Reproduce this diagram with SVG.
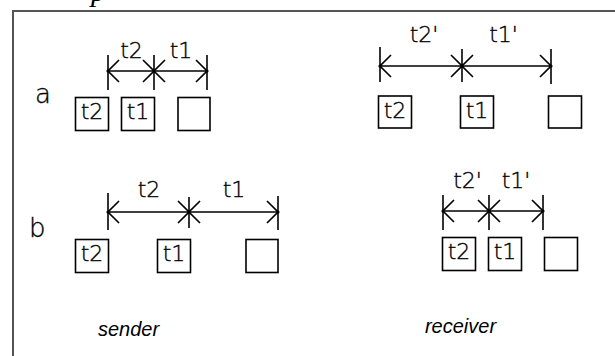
<svg xmlns="http://www.w3.org/2000/svg" width="615" height="356" viewBox="0 0 615 356">
<style>
.frame{stroke:#555;stroke-width:2;fill:none}
.box{fill:#fff;stroke:#000;stroke-width:1.6}
.lbl{font-family:"DejaVu Sans","Liberation Sans",sans-serif;font-weight:200;font-size:22px;fill:#000;stroke:#000;stroke-width:0.35;text-anchor:middle}
.row{font-family:"DejaVu Sans","Liberation Sans",sans-serif;font-weight:200;font-size:26px;fill:#000;stroke:#000;stroke-width:0.35}
.cap{font-family:"Liberation Sans",Arial,sans-serif;font-size:20px;font-style:italic;fill:#000;text-anchor:middle}
.dim{stroke:#000;stroke-width:1.6;fill:none;marker-start:url(#arr);marker-end:url(#arr)}
.tick{stroke:#000;stroke-width:1.6}
</style>
<defs>
<marker id="arr" viewBox="0 0 12 24" refX="12" refY="12" markerWidth="12" markerHeight="24" markerUnits="userSpaceOnUse" orient="auto-start-reverse">
<path d="M1,1 L12,12 L1,23" fill="none" stroke="#000" stroke-width="1.6"/>
</marker>
</defs>
<rect width="615" height="356" fill="#fff"/>
<text x="91" y="1" font-family="Liberation Serif,serif" font-style="italic" font-size="30">p</text>
<path class="frame" d="M13,356 V11 H615"/>

<g id="label-a"><text class="row" x="35" y="103">a</text></g>
<g id="label-b"><text class="row" x="29" y="237">b</text></g>

<g id="connectors">
  <!-- a sender -->
  <line class="tick" x1="108" y1="55" x2="108" y2="90"/>
  <line class="tick" x1="154" y1="55" x2="154" y2="90"/>
  <line class="tick" x1="207" y1="55" x2="207" y2="90"/>
  <line class="dim" x1="108" y1="71" x2="154" y2="71"/>
  <line class="dim" x1="154" y1="71" x2="207" y2="71"/>
  <text class="lbl" x="131.5" y="58">t2</text>
  <text class="lbl" x="181" y="58">t1</text>
  <!-- a receiver -->
  <line class="tick" x1="380" y1="47" x2="380" y2="82"/>
  <line class="tick" x1="462" y1="49" x2="462" y2="82"/>
  <line class="tick" x1="551" y1="49" x2="551" y2="84"/>
  <line class="dim" x1="380" y1="66" x2="462" y2="66"/>
  <line class="dim" x1="462" y1="66" x2="551" y2="66"/>
  <text class="lbl" x="424" y="42">t2'</text>
  <text class="lbl" x="503.5" y="42">t1'</text>
  <!-- b sender -->
  <line class="tick" x1="108" y1="193" x2="108" y2="230"/>
  <line class="tick" x1="189" y1="197" x2="189" y2="228"/>
  <line class="tick" x1="278" y1="196" x2="278" y2="230"/>
  <line class="dim" x1="108" y1="212" x2="189" y2="212"/>
  <line class="dim" x1="189" y1="212" x2="278" y2="212"/>
  <text class="lbl" x="149" y="197">t2</text>
  <text class="lbl" x="234" y="197">t1</text>
  <!-- b receiver -->
  <line class="tick" x1="443" y1="195" x2="443" y2="230"/>
  <line class="tick" x1="489" y1="195" x2="489" y2="230"/>
  <line class="tick" x1="543" y1="195" x2="543" y2="230"/>
  <line class="dim" x1="443" y1="211" x2="489" y2="211"/>
  <line class="dim" x1="489" y1="211" x2="543" y2="211"/>
  <text class="lbl" x="467.5" y="188">t2'</text>
  <text class="lbl" x="516" y="188">t1'</text>
  <g fill="#000">
    <circle cx="108" cy="71" r="1.6"/><circle cx="154" cy="71" r="1.6"/><circle cx="207" cy="71" r="1.6"/>
    <circle cx="380" cy="66" r="1.6"/><circle cx="462" cy="66" r="1.6"/><circle cx="551" cy="66" r="1.6"/>
    <circle cx="108" cy="212" r="1.6"/><circle cx="189" cy="212" r="1.6"/><circle cx="278" cy="212" r="1.6"/>
    <circle cx="443" cy="211" r="1.6"/><circle cx="489" cy="211" r="1.6"/><circle cx="543" cy="211" r="1.6"/>
  </g>
</g>

<!-- row a sender -->
<g id="a-s-t2"><rect class="box" x="75.5" y="97.5" width="33" height="33"/><text class="lbl" x="92" y="119">t2</text></g>
<g id="a-s-t1"><rect class="box" x="121.5" y="97.5" width="33" height="33"/><text class="lbl" x="138" y="119">t1</text></g>
<g id="a-s-empty"><rect class="box" x="178" y="97.5" width="32" height="33"/></g>
<!-- row a receiver -->
<g id="a-r-t2"><rect class="box" x="378.5" y="96" width="33" height="32"/><text class="lbl" x="395" y="118">t2</text></g>
<g id="a-r-t1"><rect class="box" x="460.5" y="96" width="33" height="32"/><text class="lbl" x="477" y="118">t1</text></g>
<g id="a-r-empty"><rect class="box" x="548.5" y="96" width="33" height="32"/></g>
<!-- row b sender -->
<g id="b-s-t2"><rect class="box" x="75.5" y="239.5" width="33" height="33"/><text class="lbl" x="92" y="261">t2</text></g>
<g id="b-s-t1"><rect class="box" x="157.5" y="239.5" width="33" height="33"/><text class="lbl" x="174" y="261">t1</text></g>
<g id="b-s-empty"><rect class="box" x="246" y="239.5" width="32" height="33"/></g>
<!-- row b receiver -->
<g id="b-r-t2"><rect class="box" x="442.5" y="237.5" width="33" height="33"/><text class="lbl" x="459" y="259">t2</text></g>
<g id="b-r-t1"><rect class="box" x="488.5" y="237.5" width="33" height="33"/><text class="lbl" x="505" y="259">t1</text></g>
<g id="b-r-empty"><rect class="box" x="544.5" y="237.5" width="33" height="33"/></g>

<g id="cap-sender"><text class="cap" x="128.5" y="336">sender</text></g>
<g id="cap-receiver"><text class="cap" x="460.5" y="333">receiver</text></g>
</svg>
